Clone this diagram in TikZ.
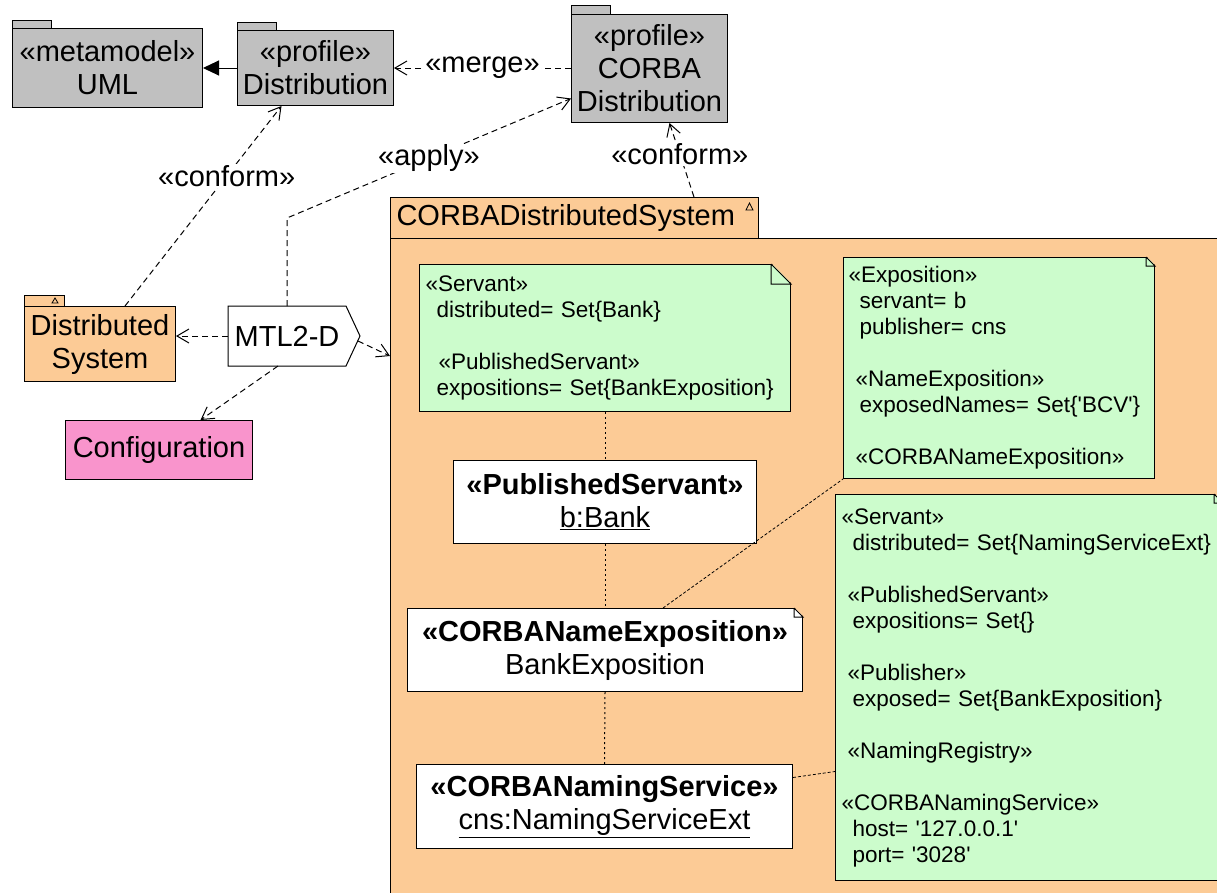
\documentclass[tikz,border=0pt]{standalone}
\usepackage{fontspec}
\setmainfont{Liberation Sans}
\usetikzlibrary{shapes,calc,positioning,arrows.meta}
\definecolor{pkggray}{RGB}{192,192,192}
\definecolor{pkgorange}{RGB}{252,203,150}
\definecolor{notegreen}{RGB}{204,252,204}
\definecolor{cfgpink}{RGB}{249,148,204}
\newcommand{\nudge}[1]{\hspace*{#1pt}}
\newcommand{\pkgtab}[4]{\draw[fill=#2] (#1.north west) rectangle ([shift={(#3pt,#4pt)}]#1.north west);}
\newcommand{\fold}[2]{%
  \fill[pkgorange] ([shift={(-#2pt,1pt)}]#1.north east) -- ([shift={(1pt,1pt)}]#1.north east)
    -- ([shift={(1pt,-#2pt)}]#1.north east) -- cycle;
  \draw ([xshift=-#2pt]#1.north east) -- ([yshift=-#2pt]#1.north east) -| ([xshift=-#2pt]#1.north east);}

\begin{document}
\begin{tikzpicture}
[x=1pt,y=-1pt,line width=1pt,
 every node/.style={font=\fontsize{29}{33}\selectfont,inner sep=0pt,anchor=north west},
 pkg/.style={draw,fill=pkggray,align=center},
 obj/.style={draw,fill=white,align=center},
 note/.style={draw,fill=notegreen,align=left,font=\fontsize{22.5}{26}\selectfont},
 dep/.style={dash pattern=on 6pt off 4pt,-{Straight Barb[length=12pt,width=14pt]}},
 link/.style={dash pattern=on 2pt off 3pt},
 anchorlink/.style={dash pattern=on 3pt off 2pt,line width=0.8pt},
 lbl/.style={fill=white,inner sep=1pt,anchor=center}]
\clip (0,0) rectangle (1217,892);

% profiles
\node[pkg,minimum width=190pt,minimum height=79pt] (uml) at (12,28) {«metamodel»\\UML};
\pkgtab{uml}{pkggray}{39}{8}
\node[pkg,minimum width=156pt,minimum height=75pt] (dist) at (237,30) {«profile»\\Distribution};
\pkgtab{dist}{pkggray}{39}{8}
\node[pkg,minimum width=156pt,minimum height=108pt] (corba) at (571,14) {«profile»\\CORBA\\Distribution};
\pkgtab{corba}{pkggray}{39}{9}

% transformation
\node[pkg,fill=pkgorange,minimum width=151pt,minimum height=75pt] (ds) at (24,306) {Distributed\\System};
\pkgtab{ds}{pkgorange}{40}{11}
\draw[line width=0.8pt] ([shift={(31pt,8pt)}]ds.north west) -- ([shift={(28pt,3pt)}]ds.north west)
  -- ([shift={(34pt,3pt)}]ds.north west) -- cycle;
\node[minimum width=117pt,minimum height=59pt] (mtl) at (228,306) {MTL2-D};
\draw (mtl.north west) -- (mtl.north east) -- ([xshift=14pt]mtl.east) -- (mtl.south east)
  -- (mtl.south west) -- cycle;
\node[draw,fill=cfgpink,minimum width=187pt,minimum height=59pt] (conf) at (65,420) {Configuration};

% distributed model
\node[draw,fill=pkgorange,minimum width=850pt,minimum height=700pt] (cdsbody) at (390,238) {};
\node[draw,fill=pkgorange,text width=356pt,inner xsep=6pt,minimum height=41pt,align=left] (cdshead)
  at (390,197) {CORBADistributedSystem};
\draw[line width=0.8pt] ([shift={(-9.5pt,-6pt)}]cdshead.north east) -- ([shift={(-13pt,-13pt)}]cdshead.north east)
  -- ([shift={(-6pt,-13pt)}]cdshead.north east) -- cycle;
\coordinate (cdsin) at (390,356);

\node[note,text width=359pt,inner xsep=6pt,minimum height=147pt] (n1) at (419,264)
  {«Servant»\\\nudge{11}distributed= Set\{Bank\}\\[26pt]\nudge{13}«PublishedServant»\\
   \nudge{11}expositions= Set\{BankExposition\}};
\fold{n1}{20}
\node[note,text width=301pt,inner xsep=5pt,minimum height=221pt] (n2) at (843,257)
  {«Exposition»\\\nudge{11}servant= b\\\nudge{11}publisher= cns\\[26pt]\nudge{7}«NameExposition»\\
   \nudge{11}exposedNames= Set\{\textquotesingle BCV\textquotesingle\}\\[26pt]\nudge{7}«CORBANameExposition»};
\fold{n2}{9}
\node[note,text width=375pt,inner xsep=6pt,minimum height=386pt] (n3) at (835,494)
  {«Servant»\\\nudge{11}distributed= Set\{NamingServiceExt\}\\[26pt]\nudge{6}«PublishedServant»\\
   \nudge{11}expositions= Set\{\}\\[26pt]\nudge{6}«Publisher»\\\nudge{11}exposed= Set\{BankExposition\}\\[26pt]
   \nudge{6}«NamingRegistry»\\[26pt]«CORBANamingService»\\\nudge{11}host= \textquotesingle127.0.0.1\textquotesingle\\
   \nudge{11}port= \textquotesingle3028\textquotesingle};
\fold{n3}{9}

\node[obj,minimum width=303pt,minimum height=83pt] (ps) at (453,460)
  {\textbf{«PublishedServant»}\\\underline{b:Bank}};
\node[obj,minimum width=395pt,minimum height=83pt] (cne) at (407,608)
  {\textbf{«CORBANameExposition»}\\BankExposition};
\fold{cne}{9}
\node[obj,minimum width=376pt,minimum height=84pt] (cns) at (416,764)
  {\textbf{«CORBANamingService»}\\\underline{cns:NamingServiceExt}};

\draw[link] (n1.south) -- (ps.north);
\draw[link] (ps.south) -- (cne.north);
\draw[link] (cne.south) -- (cns.north);
\draw[anchorlink] ([xshift=58pt]cne.north) -- (n2.south west);
\draw[anchorlink] ([yshift=29pt]cns.east) -- ([yshift=-84pt]n3.west);

% dependencies
\draw[-{Triangle[length=16pt,width=15pt]}] (dist.west) -- (uml.east);
\draw[dep] (corba.west |- dist.east) -- node[lbl]{«merge»} (dist.east);
\draw[dep] (mtl.north) -- ++(0,-88) -- node[lbl]{«apply»} ([yshift=-30pt]corba.west);
\draw[dep] ([xshift=25pt]ds.north) -- node[lbl,pos=0.65]{«conform»} ([xshift=-34pt]dist.south);
\draw[dep] ([xshift=-65pt]cdshead.north east) -- node[lbl,pos=0.58]{«conform»} ([xshift=20pt]corba.south);
\draw[dep] (mtl.west) -- (mtl.west -| ds.east);
\draw[dep] ([shift={(12pt,-5pt)}]mtl.east) -- (cdsin);
\draw[dep] ([xshift=-9pt]mtl.south) -- ([xshift=41.5pt]conf.north);
\end{tikzpicture}
\end{document}
